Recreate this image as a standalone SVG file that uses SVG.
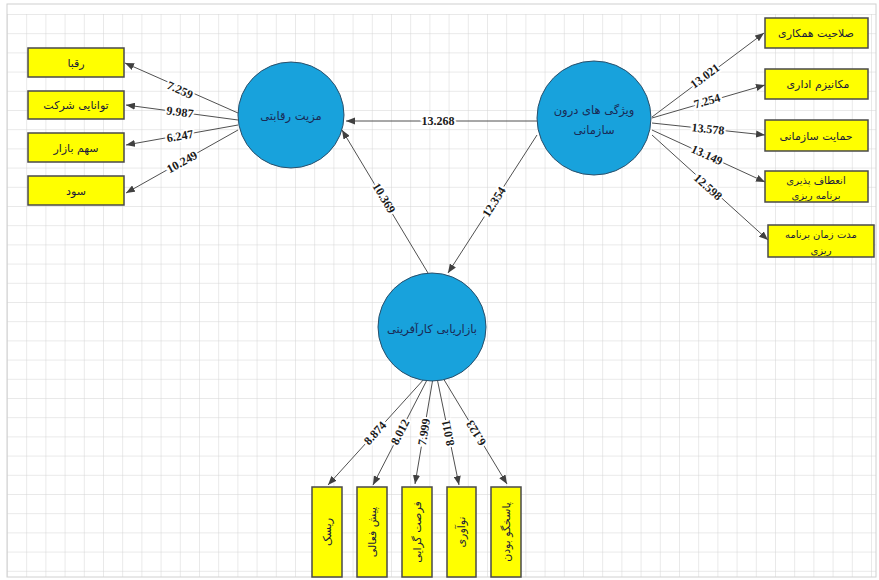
<svg xmlns="http://www.w3.org/2000/svg" width="879" height="580" viewBox="0 0 879 580">
<style>
.node-c{fill:#18a2dc;stroke:#2b4f6a;stroke-width:1}
.box{fill:#ffff00;stroke:#4a4a4a;stroke-width:1.5}
.fa{font-family:"DejaVu Sans",sans-serif;font-size:11px;fill:#1a1a3a;text-anchor:middle;dominant-baseline:central}
.fs{font-size:10px}
.fc{font-family:"DejaVu Sans",sans-serif;font-size:11.5px;fill:#1a2a55;text-anchor:middle;dominant-baseline:central}
.edge{stroke:#505050;stroke-width:1;fill:none;marker-end:url(#ah)}
.lbl{font-family:"Liberation Serif",serif;font-size:12px;font-weight:bold;fill:#1a1a1a;text-anchor:middle;dominant-baseline:central;paint-order:stroke;stroke:#ffffff;stroke-width:4px}
</style>
<defs>
<pattern id="grid" x="7" y="14" width="19.2" height="19.2" patternUnits="userSpaceOnUse">
<path d="M0,0 H19.2 M0,0 V19.2" stroke="#d4d4d4" stroke-width="1" fill="none"/>
</pattern>
<marker id="ah" viewBox="0 0 10 8" refX="10" refY="4" markerWidth="9" markerHeight="7.2" orient="auto" markerUnits="userSpaceOnUse">
<path d="M0,0 L10,4 L0,8 z" fill="#404040"/>
</marker>
</defs>
<rect x="0" y="0" width="879" height="580" fill="#ffffff"/>
<rect x="7" y="14" width="869" height="563" fill="url(#grid)"/>
<rect x="7" y="4" width="869" height="573" fill="none" stroke="#d0d0d0" stroke-width="1"/>

<g id="connectors">
<path class="edge" d="M238,113 L125,63"/>
<path class="edge" d="M238,120 L126,105"/>
<path class="edge" d="M238,125 L126,145"/>
<path class="edge" d="M238,130 L126,193"/>
<path class="edge" d="M652,117 L764,33"/>
<path class="edge" d="M652,118 L765,85"/>
<path class="edge" d="M652,123 L765,135"/>
<path class="edge" d="M652,130 L765,182"/>
<path class="edge" d="M652,135 L768,240"/>
<path class="edge" d="M537,121 L346,121"/>
<path class="edge" d="M537,135 L448,273"/>
<path class="edge" d="M428,273 L342,130"/>
<path class="edge" d="M425,378 L328,485"/>
<path class="edge" d="M428,378 L373,485"/>
<path class="edge" d="M433,378 L415,484"/>
<path class="edge" d="M437,378 L459,485"/>
<path class="edge" d="M443,378 L507,484"/>
<text class="lbl" transform="translate(180,90) rotate(24)">7.259</text>
<text class="lbl" transform="translate(180,112) rotate(7.6)">9.987</text>
<text class="lbl" transform="translate(180,136) rotate(-10)">6.247</text>
<text class="lbl" transform="translate(182,162) rotate(-29)">10.249</text>
<text class="lbl" transform="translate(705,76) rotate(-36.5)">13.021</text>
<text class="lbl" transform="translate(707,101) rotate(-16)">7.254</text>
<text class="lbl" transform="translate(708,129) rotate(6)">13.578</text>
<text class="lbl" transform="translate(707,155) rotate(24.7)">13.149</text>
<text class="lbl" transform="translate(708,187) rotate(42)">12.598</text>
<text class="lbl" transform="translate(438,121)">13.268</text>
<text class="lbl" transform="translate(494,202) rotate(-57.4)">12.354</text>
<text class="lbl" transform="translate(384,198) rotate(59)">10.369</text>
<text class="lbl" transform="translate(375,433) rotate(-47.8)">8.874</text>
<text class="lbl" transform="translate(400,432) rotate(-62.8)">8.012</text>
<text class="lbl" transform="translate(424,432) rotate(-80.3)">7.999</text>
<text class="lbl" transform="translate(448,433) rotate(-101.6)">8.011</text>
<text class="lbl" transform="translate(476,433) rotate(-121.4)">6.123</text>
</g>

<g id="n-mazit">
<circle class="node-c" cx="291" cy="115" r="53"/>
<text class="fc" x="291" y="116">مزیت رقابتی</text>
</g>
<g id="n-vizhegi">
<circle class="node-c" cx="594" cy="118" r="57"/>
<text class="fc" x="594" y="110">ویژگی های درون</text>
<text class="fc" x="594" y="130">سازمانی</text>
</g>
<g id="n-bazaryabi">
<circle class="node-c" cx="432" cy="327" r="54"/>
<text class="fc" x="432" y="329">بازاریابی کارآفرینی</text>
</g>

<g id="b-roqaba"><rect class="box" x="28" y="48" width="96" height="29"/><text class="fa" x="76" y="63">رقبا</text></g>
<g id="b-tavanayi"><rect class="box" x="28" y="91" width="96" height="28"/><text class="fa" x="76" y="105">توانایی شرکت</text></g>
<g id="b-sahm"><rect class="box" x="28" y="133" width="96" height="29"/><text class="fa" x="76" y="148">سهم بازار</text></g>
<g id="b-sud"><rect class="box" x="28" y="176" width="96" height="29"/><text class="fa" x="76" y="191">سود</text></g>

<g id="b-salahiat"><rect class="box" x="765" y="18" width="103" height="30"/><text class="fa" x="816" y="33">صلاحیت همکاری</text></g>
<g id="b-mekanizm"><rect class="box" x="765" y="69" width="103" height="30"/><text class="fa" x="818" y="84">مکانیزم اداری</text></g>
<g id="b-hemayat"><rect class="box" x="765" y="120" width="103" height="31"/><text class="fa" x="816" y="136">حمایت سازمانی</text></g>
<g id="b-enetaf"><rect class="box" x="765" y="171" width="103" height="31"/><text class="fa fs" x="816" y="180">انعطاف پذیری</text><text class="fa fs" x="816" y="195">برنامه ریزی</text></g>
<g id="b-moddat"><rect class="box" x="768" y="225" width="106" height="32"/><text class="fa fs" x="821" y="234">مدت زمان برنامه</text><text class="fa fs" x="821" y="250">ریزی</text></g>

<g id="b-risk"><rect class="box" x="312" y="487" width="30" height="90"/><text class="fa" transform="translate(327,532) rotate(-90)">ریسک</text></g>
<g id="b-pish"><rect class="box" x="357" y="487" width="30" height="90"/><text class="fa" transform="translate(372,532) rotate(-90)">پیش فعالی</text></g>
<g id="b-forsat"><rect class="box" x="402" y="487" width="30" height="90"/><text class="fa" transform="translate(417,532) rotate(-90)">فرصت گرایی</text></g>
<g id="b-noavari"><rect class="box" x="447" y="487" width="29" height="90"/><text class="fa" transform="translate(461.5,532) rotate(-90)">نوآوری</text></g>
<g id="b-pasokh"><rect class="box" x="491" y="487" width="30" height="90"/><text class="fa" transform="translate(506,532) rotate(-90)">پاسخگو بودن</text></g>
</svg>
